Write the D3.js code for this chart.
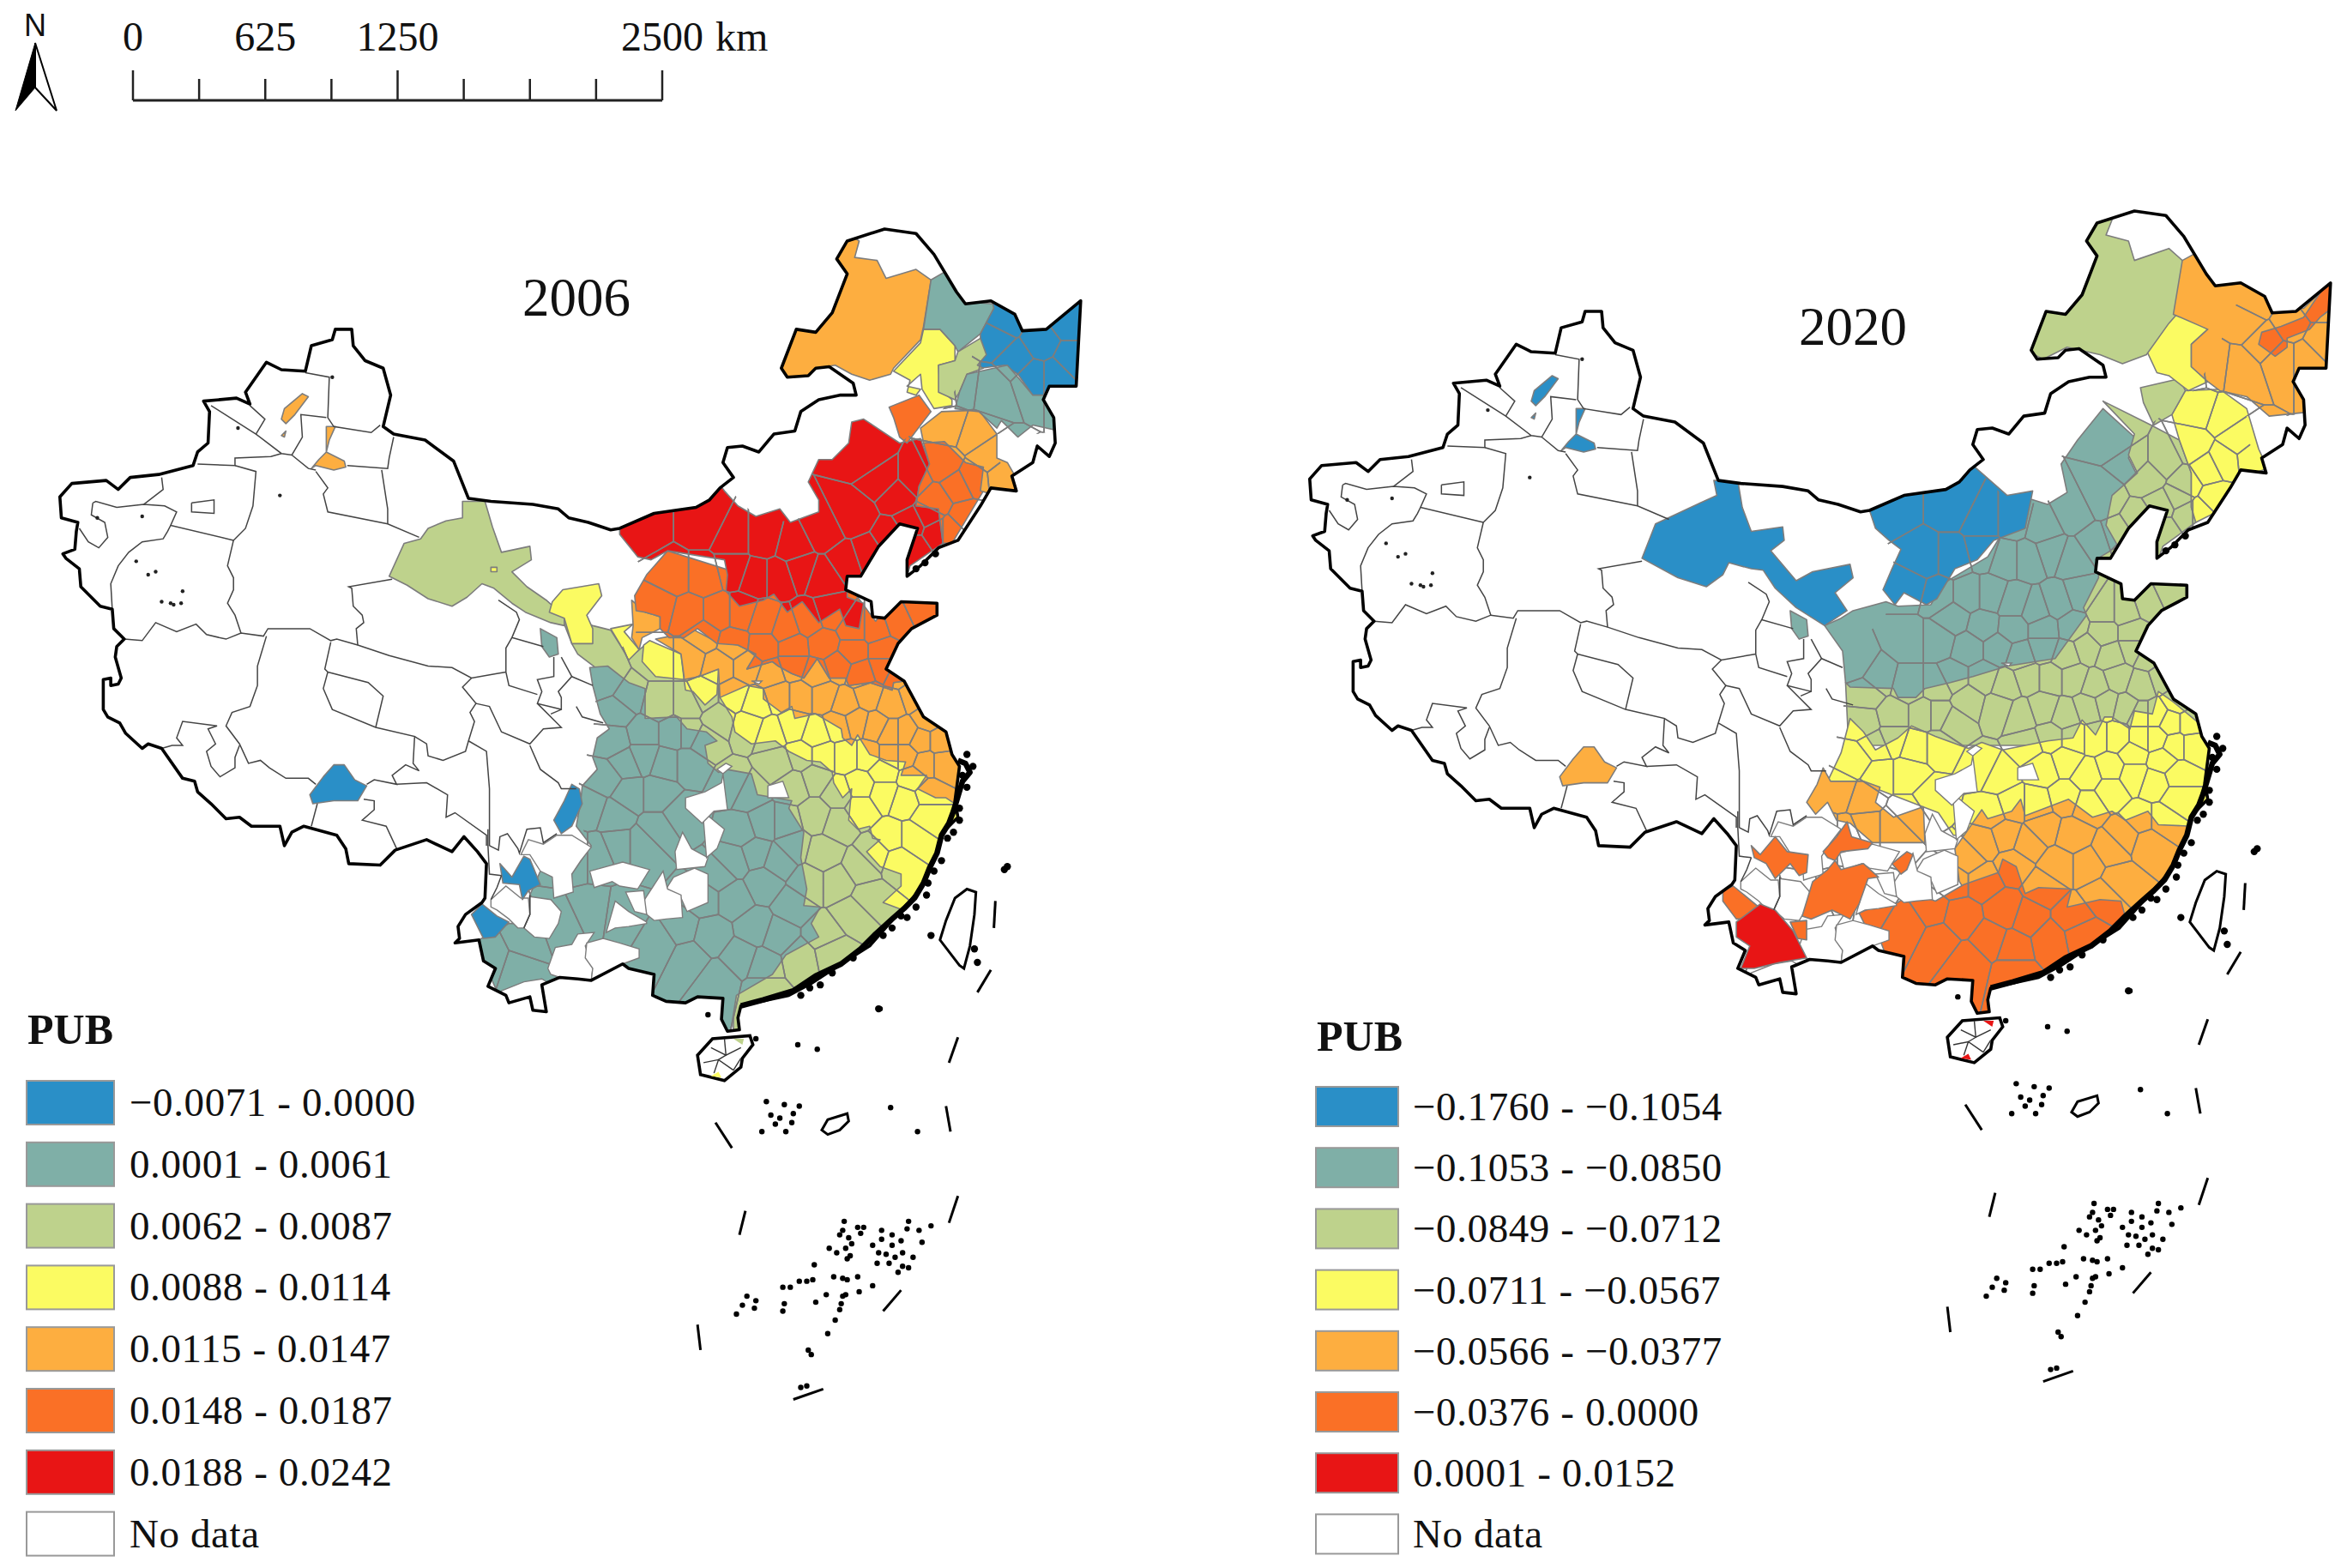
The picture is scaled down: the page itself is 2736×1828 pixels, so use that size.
<!DOCTYPE html>
<html>
<head>
<meta charset="utf-8">
<script src="https://cdn.jsdelivr.net/npm/d3@7"></script>
<style>
  html, body { margin: 0; background: #fff; }
  text { font-family: "Liberation Serif", serif; fill: #111; }
</style>
</head>
<body>
<svg id="chart" width="2736" height="1828"></svg>
<script>
// all map arrays are in "map units", the 2020 panel is the same map shifted
const classColors = ["#2a8fc7", "#7fafa7", "#bed28c", "#fbfb62", "#fdae40", "#fa7026", "#e81515"];
const noDataColor = "#ffffff";

const years = ["2006", "2020"];
const labels2006 = ["\u22120.0071 - 0.0000", "0.0001 - 0.0061", "0.0062 - 0.0087", "0.0088 - 0.0114", "0.0115 - 0.0147", "0.0148 - 0.0187", "0.0188 - 0.0242", "No data"];
const labels2020 = ["\u22120.1760 - \u22120.1054", "\u22120.1053 - \u22120.0850", "\u22120.0849 - \u22120.0712", "\u22120.0711 - \u22120.0567", "\u22120.0566 - \u22120.0377", "\u22120.0376 - 0.0000", "0.0001 - 0.0152", "No data"];
const scaleTicks = [0, 312.5, 625, 937.5, 1250, 1562.5, 1875, 2187.5, 2500];
const scaleLabels = [0, 625, 1250, 2500];

const land = [[40,332],[48,323],[71,321],[79,327],[87,319],[106,317],[129,311],[132,302],[139,296],[140,275],[136,268],[158,266],[167,270],[164,262],[178,242],[188,247],[204,248],[208,231],[222,227],[224,220],[235,220],[236,231],[244,241],[256,246],[261,264],[256,285],[263,290],[284,294],[303,308],[313,333],[328,335],[356,337],[373,340],[380,346],[393,349],[408,354],[414,353],[437,343],[465,339],[474,334],[481,326],[490,319],[483,309],[486,299],[496,298],[507,302],[517,290],[531,288],[535,275],[547,267],[561,264],[572,264],[570,256],[554,245],[545,246],[540,251],[526,252],[522,246],[532,220],[545,222],[556,209],[566,183],[559,173],[566,161],[591,153],[612,156],[624,170],[639,195],[645,203],[662,201],[678,210],[683,221],[699,220],[722,201],[721,220],[719,258],[701,258],[697,267],[704,279],[705,296],[701,305],[693,298],[690,309],[676,318],[679,328],[662,326],[655,338],[640,361],[627,366],[615,378],[606,385],[606,374],[613,353],[601,350],[587,365],[575,385],[566,385],[565,394],[582,402],[583,412],[591,413],[602,402],[626,403],[626,411],[609,420],[600,430],[592,447],[604,455],[617,479],[632,489],[636,504],[641,512],[638,535],[640,546],[630,556],[625,573],[615,594],[607,603],[596,615],[581,632],[562,644],[542,657],[527,665],[495,672],[493,680],[494,688],[486,689],[482,681],[483,667],[466,666],[458,670],[445,669],[436,665],[437,651],[420,647],[416,644],[395,655],[386,654],[374,653],[362,658],[365,676],[356,675],[354,666],[340,670],[338,665],[326,659],[331,647],[323,642],[320,628],[304,630],[307,627],[306,619],[311,611],[322,603],[324,600],[325,577],[319,569],[310,559],[302,569],[285,561],[264,568],[254,578],[233,577],[231,567],[225,558],[203,552],[195,556],[190,565],[187,552],[168,552],[160,546],[151,547],[141,537],[132,529],[130,522],[122,520],[108,500],[99,497],[95,500],[84,490],[80,483],[72,479],[69,474],[69,454],[74,453],[74,458],[79,457],[81,453],[77,439],[78,432],[83,427],[76,420],[75,407],[67,405],[54,392],[53,380],[44,373],[42,370],[50,367],[51,355],[52,349],[41,346]];
const hainan = [[466,705],[476,694],[501,692],[503,698],[496,707],[495,713],[484,722],[468,718]];
const taiwan = [[646,594],[652,596],[651,611],[648,632],[644,647],[641,645],[628,628],[632,615],[638,600]];
const zhongsha = [[549,755],[553,748],[566,744],[567,749],[561,755],[553,758]];

// heavy jagged stretch of the south east coast
const heavyCoast = [[640,508],[645,510],[648,516],[643,522],[640,532],[637,542],[634,550],[629,558],[626,570],[621,580],[617,590],[611,600],[604,607],[596,614],[585,624],[575,634],[562,644],[545,652],[530,662],[510,668],[495,672]];
const coastIslets = [[646,504],[650,512],[643,518],[646,526],[641,540],[633,560],[629,575],[620,590],[612,606],[602,612],[590,625],[548,658],[535,665],[622,625],[587,674],[653,643],[651,634],[673,579],[671,581],[641,548],[637,556],[624,582],[619,598],[606,613],[596,620],[570,640],[556,650],[541,660],[612,380],[618,376],[625,370]];

const dashes = [[[550,928],[530,935]],[[602,862],[590,876]],[[466,885],[468,902]],[[498,809],[494,825]],[[640,799],[634,817]],[[632,739],[635,756]],[[640,693],[634,710]],[[662,648],[653,663]],[[478,750],[489,767]],[[665,602],[664,620]]];
const islets = [[473,678],[588,674],[533,698],[546,701],[505,694],[512,736],[524,738],[515,745],[521,747],[518,751],[530,744],[534,739],[529,750],[509,756],[525,756],[595,740],[613,756],[564,816],[563,822],[561,825],[567,827],[569,831],[565,834],[554,834],[559,837],[568,839],[566,841],[544,845],[573,820],[577,820],[575,824],[589,822],[589,828],[596,825],[602,829],[607,816],[606,821],[614,822],[622,819],[616,830],[583,832],[596,832],[587,837],[592,838],[598,840],[603,837],[610,840],[586,844],[594,844],[603,846],[607,847],[600,850],[557,853],[563,854],[566,855],[573,853],[583,859],[574,863],[552,865],[563,866],[565,865],[545,870],[562,871],[561,875],[558,882],[553,891],[540,902],[542,905],[535,927],[539,926],[523,860],[528,860],[534,856],[539,856],[543,855],[499,866],[505,869],[496,872],[504,874],[492,878],[524,871],[523,876]];

// thin province and prefecture lines in the no data west
const westLines = [
  [[141,271],[171,290],[188,303],[195,304],[202,292],[201,277],[218,279]],
  [[204,249],[220,252],[219,279],[223,285],[248,289],[254,284]],
  [[171,290],[177,280],[167,271]],
  [[132,310],[157,311],[157,306],[181,305],[188,303]],
  [[195,304],[206,313],[211,314]],
  [[232,311],[259,313],[260,306],[263,292]],
  [[211,315],[219,326],[216,330],[219,342],[259,350],[280,359]],
  [[255,314],[259,340],[259,350]],
  [[157,311],[171,315],[169,338],[164,353],[156,361]],
  [[108,319],[109,327],[96,337]],
  [[62,336],[64,335],[78,339],[96,337],[110,338],[118,342],[114,351],[156,361]],
  [[114,351],[112,355],[109,360],[95,362],[86,369],[79,378],[74,390],[75,407]],
  [[62,336],[61,344],[70,349],[72,359],[66,366],[59,362],[53,353]],
  [[156,361],[152,378],[156,386],[156,394],[152,403],[157,411],[161,423]],
  [[128,336],[143,334],[143,343],[128,342],[128,336]],
  [[83,427],[95,428],[104,416],[118,422],[131,417],[138,424],[151,427],[161,423],[176,425],[179,420],[207,420],[221,428],[225,427],[239,431],[260,438],[286,445],[302,446],[315,453],[332,450],[338,449]],
  [[178,425],[172,445],[172,458],[167,472],[155,476],[151,485],[160,497],[166,510],[174,508],[180,513],[191,520],[206,520],[211,524]],
  [[160,498],[157,506],[157,513],[147,519],[141,512],[138,502],[144,497],[139,487],[145,485],[122,482],[118,493],[122,498],[115,498],[108,500]],
  [[221,429],[217,447],[219,449],[216,460],[222,474],[251,486],[277,492],[276,510],[280,515],[271,511],[262,518],[265,524],[250,521],[245,524]],
  [[219,449],[246,456],[256,465],[251,486]],
  [[277,492],[285,497],[286,505],[296,508],[311,502],[313,495],[317,482],[314,476],[318,470],[309,459],[315,453]],
  [[313,495],[325,502],[327,527],[327,565]],
  [[318,470],[327,472],[335,489],[354,497],[363,487],[375,486],[359,470]],
  [[265,524],[285,523],[299,531],[298,546],[304,543],[325,558],[325,565]],
  [[243,534],[250,535],[250,541],[242,548],[258,552],[265,567]],
  [[212,537],[208,552]],
  [[239,431],[238,420],[243,416],[242,411],[236,405],[235,393],[233,392],[262,387]],
  [[354,498],[361,514],[373,523],[375,527],[385,527]],
  [[333,401],[345,409],[347,414],[342,426],[363,432]],
  [[342,426],[338,433],[338,449],[340,458],[359,464]],
  [[370,439],[370,452],[359,454],[362,462],[359,470],[375,474],[375,466],[373,462],[382,452],[396,458]],
  [[375,439],[382,452]],
  [[375,474],[368,477]],
  [[385,472],[389,479],[403,483]],
  [[326,554],[326,565],[327,584],[335,585]],
  [[327,565],[333,568],[334,559],[339,557],[346,567],[347,570],[352,554],[361,553],[363,563],[372,557]],
  [[328,601],[332,593],[335,585]],
  [[354,598],[354,611],[350,620]]
];
const hainanLines = [
  [[475,700],[485,705],[495,700]],
  [[470,710],[480,708],[490,715]],
  [[485,705],[480,708]],
  [[490,715],[495,707]],
  [[484,694],[485,705]],
  [[480,708],[477,717]]
];
const lakeMarks = [[159,286],[222,252],[187,331],[95,345],[65,346],[91,375],[99,384],[104,382],[122,395],[108,402],[114,403],[116,404],[121,403]];

// no data holes inside the coloured area, same in both years
const noDataHoles = [
  [[348,571],[353,561],[363,564],[372,558],[382,558],[395,566],[388,575],[382,584],[383,596],[370,600],[369,586],[361,582],[354,571]],
  [[394,582],[416,576],[434,581],[426,594],[414,592],[409,589],[397,593]],
  [[450,586],[464,580],[473,584],[473,603],[459,609],[455,600],[445,594]],
  [[430,602],[443,582],[446,594],[455,598],[456,613],[445,614],[437,615],[432,611]],
  [[418,596],[430,595],[432,611],[424,609]],
  [[405,623],[411,602],[420,609],[432,616],[432,617],[420,619],[411,620]],
  [[451,569],[456,556],[462,567],[473,573],[471,579],[452,581]],
  [[470,548],[473,545],[484,554],[479,567],[472,573]],
  [[458,533],[471,529],[482,523],[483,517],[486,541],[477,542],[469,550],[458,540]],
  [[479,514],[485,510],[489,512],[483,517]],
  [[513,525],[523,522],[527,533],[513,533]],
  [[502,455],[509,455],[507,457]],
  [[366,647],[371,633],[382,631],[386,624],[397,623],[391,632],[396,647],[395,655],[382,654],[374,653],[368,651]],
  [[392,630],[403,627],[414,630],[427,634],[427,640],[416,644],[395,655],[396,647],[391,640]],
  [[335,662],[350,656],[362,654],[372,660],[372,680],[330,680]],
  [[354,599],[368,601],[375,609],[373,617],[367,627],[357,626],[350,620],[354,611]],
  [[328,601],[338,592],[348,600],[353,600],[354,611],[350,620],[346,620],[340,614],[332,608],[328,606]]
];

// 2006 areas, painted in this order, later ones cover earlier ones
const olive06 = [[365,401],[377,412],[396,418],[408,421],[420,440],[432,430],[470,440],[540,480],[600,520],[640,545],[640,680],[490,695],[490,640],[440,600],[440,500],[403,450],[386,437],[382,430],[377,417],[368,414]];
const oliveGansu06 = [[309,335],[324,335],[329,352],[335,369],[354,365],[355,374],[342,382],[352,392],[365,401],[377,412],[377,418],[368,416],[351,409],[342,403],[330,393],[322,390],[312,399],[302,405],[286,400],[272,391],[260,385],[270,363],[281,360],[286,353],[298,348],[309,346]];
const teal06 = [[394,446],[406,445],[420,456],[431,460],[431,480],[452,479],[459,487],[472,489],[479,495],[471,498],[473,510],[480,516],[485,514],[502,517],[506,531],[529,535],[527,540],[537,556],[535,573],[539,594],[537,605],[548,606],[542,617],[547,626],[525,638],[516,651],[492,665],[488,690],[440,690],[340,680],[322,640],[320,628],[340,617],[352,617],[354,598],[361,582],[373,584],[382,584],[395,565],[385,552],[388,535],[389,525],[399,514],[396,506],[399,493],[407,487],[401,477],[396,458]];
const tealSpot06 = [[361,420],[372,426],[373,437],[367,439],[362,432]];
const yellow06 = [[481,466],[481,440],[560,450],[600,470],[640,500],[650,540],[640,620],[606,620],[606,609],[590,603],[602,592],[602,584],[588,579],[579,569],[588,561],[583,560],[581,552],[573,554],[567,548],[569,527],[563,533],[557,523],[556,516],[548,509],[539,508],[527,502],[518,495],[502,497],[491,489],[489,479]];
const yellowHenan06 = [[430,431],[434,428],[455,437],[457,454],[438,452],[429,442]];
const yellowNingxia06 = [[376,394],[400,390],[402,398],[392,411],[396,420],[396,430],[382,430],[377,413],[367,409],[369,402]];
const yellowShaanxi06 = [[408,420],[423,417],[417,422],[427,434],[420,441],[414,430]];
const yellowHanzhong06 = [[457,454],[467,452],[480,447],[479,464],[471,471],[463,462],[458,461]];
const orange06 = [[438,427],[448,425],[462,420],[479,429],[493,431],[505,437],[499,447],[516,442],[520,445],[529,450],[537,453],[546,440],[554,453],[565,453],[567,458],[581,456],[596,461],[597,456],[604,455],[625,470],[650,500],[650,545],[632,533],[625,533],[613,527],[619,518],[602,518],[605,509],[592,508],[581,504],[573,491],[569,498],[563,493],[562,487],[545,477],[531,480],[529,472],[522,476],[510,467],[510,460],[499,458],[481,466],[480,447],[467,452],[457,454],[457,452],[455,437]];
const orangeStrip06 = [[422,401],[431,409],[441,412],[441,420],[429,426],[427,434],[422,426],[423,418]];
const dark06 = [[432,384],[424,398],[425,408],[431,409],[441,412],[441,420],[447,426],[457,426],[466,420],[479,430],[493,431],[505,437],[499,447],[516,442],[520,445],[529,450],[537,453],[546,440],[554,453],[565,453],[567,458],[581,456],[596,461],[597,456],[604,455],[640,440],[640,395],[600,395],[585,415],[570,395],[500,385],[446,368]];
const red06 = [[414,353],[437,340],[465,336],[474,332],[481,324],[484,328],[493,338],[505,345],[521,340],[528,349],[547,342],[547,334],[540,322],[547,307],[556,307],[567,296],[569,282],[577,280],[601,296],[615,293],[621,310],[614,325],[612,338],[627,340],[630,363],[608,378],[605,388],[566,385],[566,399],[577,403],[575,414],[574,420],[565,418],[561,407],[547,416],[536,402],[526,409],[517,397],[510,401],[494,405],[485,395],[486,384],[484,374],[446,368],[435,374],[426,372],[414,357]];
const darkLiaoning06 = [[617,296],[631,295],[645,309],[657,312],[657,328],[636,363],[630,363],[627,340],[612,338],[614,325],[621,310]];
const orangeJilin06 = [[615,286],[629,275],[654,274],[666,290],[666,306],[673,309],[685,330],[662,330],[655,328],[657,312],[645,309],[631,295],[617,296]];
const darkTongliao06 = [[594,272],[614,264],[622,275],[612,288],[606,296],[601,292],[597,279]];
const yellowNE06 = [[597,248],[615,229],[617,220],[628,220],[638,231],[638,241],[627,244],[628,260],[636,267],[636,271],[624,273],[616,260],[615,250],[606,258],[615,260],[612,264],[606,262],[608,254]];
const orangeHulun06 = [[574,161],[571,172],[586,174],[592,186],[612,180],[622,187],[617,218],[615,227],[597,246],[595,250],[581,254],[569,250],[558,244],[545,246],[540,251],[526,252],[518,246],[528,218],[545,218],[554,207],[562,183],[555,173],[564,155]];
const tealNE06 = [[622,187],[634,180],[648,202],[664,203],[664,206],[655,223],[640,235],[638,231],[628,220],[617,220]];
const blueNE06 = [[662,198],[680,210],[699,215],[728,195],[728,262],[701,262],[697,265],[690,264],[680,250],[671,244],[655,246],[655,223],[664,206]];
const oliveNE06 = [[640,235],[655,226],[659,237],[653,244],[657,246],[646,250],[641,262],[638,267],[627,262],[627,244],[638,241]];
const tealNE2_06 = [[646,250],[673,244],[680,252],[690,264],[697,264],[708,288],[690,284],[680,292],[669,281],[666,286],[654,275],[638,273],[641,262]];
const blueTibet = [[223,511],[230,511],[237,521],[245,525],[239,535],[223,535],[209,537],[207,531],[216,519]];
const blueAba06 = [[382,524],[387,527],[389,537],[382,552],[375,557],[370,548],[377,535]];
const blueLijiang06 = [[350,572],[354,574],[361,591],[353,595],[349,601],[347,591],[336,590],[334,577],[342,586]];
const blueDehong06 = [[315,611],[322,604],[332,612],[340,616],[331,626],[323,627],[318,617]];
const xinjiangA = [[190,273],[202,263],[206,265],[197,277],[191,283],[188,280]];
const xinjiangB = [[188,291],[191,288],[190,292]];
const xinjiangC = [[218,285],[224,285],[220,294],[218,302],[230,308],[231,312],[223,314],[211,311],[208,313],[213,307],[218,302]];
const hainanTipNorth = [[490,694],[497,694],[496,698]];
const hainanTipSouth = [[475,719],[480,716],[482,720]];
const yellowDot06 = [[328,379],[332,379],[332,382],[328,382]];

// 2020 areas
const olive20 = [[398,468],[430,450],[500,420],[557,400],[566,386],[575,385],[600,395],[640,395],[640,510],[400,510]];
const yellow20 = [[401,492],[410,501],[418,513],[433,505],[442,497],[458,504],[480,512],[489,508],[503,513],[533,507],[550,505],[556,493],[565,503],[571,491],[576,491],[588,499],[591,487],[603,489],[607,474],[617,481],[640,500],[650,540],[640,570],[470,570],[460,555],[421,540],[386,534],[395,515]];
const orangeEast20 = [[471,579],[489,553],[493,559],[509,554],[515,546],[518,557],[547,546],[563,558],[576,554],[585,560],[600,554],[607,563],[629,564],[650,560],[640,620],[582,640],[500,640],[474,601]];
const orangeWest20 = [[383,525],[388,534],[410,534],[421,538],[418,548],[430,558],[450,551],[451,575],[416,575],[401,562],[392,560],[386,548],[378,556],[372,548],[379,536]];
const dark20 = [[407,622],[416,618],[433,615],[442,608],[458,614],[477,603],[500,595],[503,586],[512,591],[518,609],[527,605],[549,606],[546,618],[568,613],[582,614],[585,625],[585,632],[610,640],[500,700],[470,690],[440,690],[421,640],[412,632]];
const darkA20 = [[399,561],[402,571],[416,575],[413,579],[395,581],[391,587],[386,585],[383,581],[392,571]];
const darkB20 = [[351,571],[359,581],[373,583],[372,595],[367,597],[361,589],[351,599],[345,589],[337,585],[335,577],[341,583]];
const darkC20 = [[391,587],[395,593],[410,589],[420,598],[413,599],[407,616],[401,626],[389,620],[375,626],[369,624],[376,601],[386,593]];
const darkD20 = [[439,581],[443,583],[439,593],[435,596],[429,589]];
const darkE20 = [[316,607],[323,604],[340,618],[334,626],[325,626],[316,614]];
const darkF20 = [[361,628],[372,627],[372,640],[366,639]];
const red20 = [[325,628],[341,616],[351,620],[363,634],[372,652],[354,655],[337,659],[328,659],[334,644],[325,638]];
const teal20 = [[384,430],[395,425],[403,420],[425,414],[433,417],[455,416],[463,402],[493,384],[501,371],[516,365],[520,345],[533,349],[546,341],[542,322],[553,306],[570,285],[591,304],[587,318],[593,330],[578,343],[576,355],[580,375],[567,388],[567,398],[557,418],[559,423],[538,452],[506,457],[483,464],[468,468],[451,472],[445,478],[433,478],[430,472],[401,471],[398,468],[396,447]];
const tealSpot20 = tealSpot06;
const oliveLiao20 = [[570,280],[602,296],[621,306],[629,328],[629,351],[632,361],[610,377],[606,388],[565,386],[580,377],[572,363],[576,343],[593,328],[587,316],[591,302]];
const yellowLiao20 = [[616,289],[625,273],[648,272],[666,285],[674,312],[680,325],[659,332],[644,355],[632,361],[629,351],[629,328],[621,306]];
const oliveBaicheng20 = [[595,271],[621,265],[625,273],[616,289],[604,296],[597,281]];
const yellowQiqihar20 = [[617,220],[640,232],[629,242],[629,257],[640,267],[627,273],[614,263],[606,261],[599,246],[612,230]];
const orangeNE20 = [[623,186],[634,180],[648,201],[666,198],[685,218],[704,218],[728,195],[728,262],[700,269],[710,287],[681,290],[666,277],[648,273],[640,267],[629,257],[629,242],[640,232],[617,222]];
const darkNE20 = [[721,199],[728,214],[715,224],[708,232],[693,238],[693,244],[685,250],[674,242],[676,234],[689,230],[704,224],[712,212]];
const oliveHulun20 = [[576,159],[572,169],[587,173],[591,186],[614,178],[623,186],[621,220],[614,228],[599,249],[583,255],[568,249],[546,244],[530,252],[518,246],[528,218],[545,218],[554,207],[562,183],[555,173],[562,155]];
const blueHexi20 = [[310,333],[326,333],[329,351],[335,367],[356,364],[357,373],[348,380],[365,400],[376,394],[401,389],[403,398],[391,408],[399,420],[384,430],[365,418],[351,405],[343,393],[335,392],[320,388],[316,396],[305,404],[286,398],[262,385],[271,362],[301,348],[312,343]];
const blueOrdos20 = [[414,353],[440,338],[467,332],[482,322],[506,343],[523,340],[518,365],[497,373],[486,386],[471,392],[459,412],[452,416],[437,408],[431,416],[423,406],[429,392],[435,379],[427,373],[418,365]];

const layers2006 = [
  [2, olive06], [2, oliveGansu06], [1, teal06], [1, tealSpot06], [3, yellow06], [3, yellowHenan06], [3, yellowNingxia06],
  [3, yellowShaanxi06], [3, yellowHanzhong06], [4, orange06], [4, orangeStrip06], [5, dark06], [6, red06],
  [5, darkLiaoning06], [4, orangeJilin06], [5, darkTongliao06], [3, yellowNE06], [4, orangeHulun06], [1, tealNE06],
  [0, blueNE06], [2, oliveNE06], [1, tealNE2_06]
];
const spots2006 = [[0, blueTibet], [0, blueAba06], [0, blueLijiang06], [0, blueDehong06], [4, xinjiangA], [4, xinjiangB], [4, xinjiangC], [3, yellowDot06]];
const hainanSpots2006 = [[2, hainanTipNorth], [3, hainanTipSouth]];
const layers2020 = [
  [2, olive20], [3, yellow20], [4, orangeEast20], [4, orangeWest20], [5, dark20], [1, teal20], [1, tealSpot20], [0, blueOrdos20],
  [2, oliveLiao20], [3, yellowLiao20], [2, oliveBaicheng20], [3, yellowQiqihar20], [2, oliveHulun20], [4, orangeNE20], [5, darkNE20]
];
const spots2020 = [[5, darkA20], [5, darkB20], [5, darkC20], [5, darkD20], [5, darkE20], [5, darkF20], [6, red20], [0, blueHexi20], [4, blueTibet], [0, xinjiangA], [0, xinjiangB], [0, xinjiangC]];
const hainanSpots2020 = [[6, hainanTipNorth], [6, hainanTipSouth]];

// prefecture seats, read roughly, the cells around them draw the grey city borders
const citySeats = [[330,640],[350,630],[345,645],[378,620],[395,612],[415,615],[385,570],[400,570],[412,565],[430,565],[440,555],[455,545],[410,545],[395,540],[420,530],[440,530],[405,520],[418,510],[430,505],[445,510],[460,510],[430,490],[450,490],[470,495],[410,495],[412,475],[440,470],[405,455],[420,465],
[440,630],[460,640],[480,655],[455,620],[475,625],[495,640],[510,645],[470,600],[490,600],[505,620],[520,625],[530,605],[510,590],[490,575],[505,570],[520,575],[530,565],[495,555],[510,550],[525,550],[500,530],[490,525],[480,585],
[550,625],[570,610],[540,590],[560,590],[580,600],[575,580],[550,570],[560,550],[545,545],[530,525],[545,520],[560,530],[575,540],[595,560],[585,570],[600,575],[610,560],[620,545],[605,535],[590,530],[575,525],[590,515],[610,520],[620,530],[535,640],[555,636],[510,662],
[440,440],[460,440],[480,445],[500,445],[515,450],[530,445],[545,450],[560,445],[575,450],[590,445],[600,450],[470,465],[490,465],[505,470],[520,465],[535,465],[550,465],[565,470],[580,465],[595,470],[610,465],[620,480],[500,485],[515,490],[530,485],[545,490],[560,485],[572,482],[585,485],[595,490],[605,490],[615,495],[628,495],[520,510],[535,505],[550,505],[565,505],[580,505],[595,505],[605,505],[618,510],[630,510],[460,470],[480,480],[460,490],
[430,350],[470,350],[490,360],[510,360],[530,365],[550,355],[570,345],[590,320],[580,305],[600,330],[610,320],[450,385],[470,385],[490,380],[505,385],[520,385],[535,380],[550,385],[565,375],[580,370],[595,360],[610,350],[620,345],[625,355],[610,365],[440,405],[460,410],[480,410],[495,410],[510,415],[525,420],[540,415],[555,410],[570,420],[585,420],[600,415],[615,408],[470,425],[490,430],[510,432],[530,432],[550,430],[570,435],[590,435],
[630,310],[640,325],[625,335],[645,345],[635,355],[650,320],[635,285],[650,290],[660,305],[670,318],[670,215],[695,230],[715,215],[680,240],[705,250],[665,225],[690,250],[715,240],[620,245],[630,260],[645,258],[660,260]];
const cityArea = [[322,640],[345,600],[392,565],[385,530],[396,490],[400,445],[425,425],[424,398],[432,384],[414,357],[482,322],[505,345],[528,349],[547,340],[540,322],[547,307],[569,282],[601,296],[612,288],[629,275],[645,250],[655,223],[664,206],[728,198],[728,260],[697,267],[704,288],[680,292],[666,290],[666,306],[682,327],[660,330],[640,365],[650,420],[660,700],[320,700]];

const northArrowLeft = [[41,50],[18,129],[41,102]];
const northArrowRight = [[41,50],[66,129],[41,102]];

const svg = d3.select("#chart");
const lineGen = d3.line();

function drawPanel(year, offsetX, offsetY, layers, spots, hainanSpots) {
  const x = d3.scaleLinear().domain([0, 1568]).range([offsetX, offsetX + 2736]);
  const y = d3.scaleLinear().domain([0, 1047.6]).range([offsetY, offsetY + 1828]);
  const toPath = (pts, closed) => lineGen(pts.map(p => [x(p[0]), y(p[1])])) + (closed ? "Z" : "");

  const g = svg.append("g");
  const defs = g.append("defs");
  defs.append("clipPath").attr("id", "land" + year).append("path").attr("d", toPath(land, true));
  defs.append("clipPath").attr("id", "cities" + year).append("path").attr("d", toPath(cityArea, true));

  const clipped = g.append("g").attr("clip-path", `url(#land${year})`);
  const drawAreas = (parent, rows) => parent.selectAll(null).data(rows).join("path")
    .attr("d", d => toPath(d[1], true))
    .attr("fill", d => classColors[d[0]])
    .attr("stroke", "#7d7d7d")
    .attr("stroke-width", 1.6)
    .attr("stroke-linejoin", "round");

  drawAreas(clipped, layers);

  // city borders
  const voronoi = d3.Delaunay.from(citySeats).voronoi([300, 140, 740, 720]);
  clipped.append("g").attr("clip-path", `url(#cities${year})`)
    .selectAll("path").data(Array.from(voronoi.cellPolygons())).join("path")
    .attr("d", d => toPath(d, true))
    .attr("fill", "none")
    .attr("stroke", "#7d7d7d")
    .attr("stroke-width", 1.6);

  clipped.selectAll(null).data(noDataHoles).join("path")
    .attr("d", d => toPath(d, true))
    .attr("fill", noDataColor)
    .attr("stroke", "#7d7d7d")
    .attr("stroke-width", 1.4);

  drawAreas(clipped, spots);

  g.selectAll(null).data(westLines).join("path")
    .attr("d", d => toPath(d, false))
    .attr("fill", "none")
    .attr("stroke", "#444")
    .attr("stroke-width", 1.5);

  // hainan sits outside the land outline
  g.append("path").attr("d", toPath(hainan, true)).attr("fill", "#fff").attr("stroke", "#000").attr("stroke-width", 3.6);
  hainanSpots.forEach(d => {
    g.append("path").attr("d", toPath(d[1], true)).attr("fill", classColors[d[0]]);
  });
  g.selectAll(null).data(hainanLines).join("path")
    .attr("d", d => toPath(d, false)).attr("fill", "none").attr("stroke", "#333").attr("stroke-width", 1.4);

  g.append("path").attr("d", toPath(land, true))
    .attr("fill", "none").attr("stroke", "#000").attr("stroke-width", 3.6).attr("stroke-linejoin", "round");
  g.append("path").attr("d", toPath(heavyCoast, false))
    .attr("fill", "none").attr("stroke", "#000").attr("stroke-width", 6.5).attr("stroke-linejoin", "round");
  g.append("path").attr("d", toPath(taiwan, true)).attr("fill", "#fff").attr("stroke", "#000").attr("stroke-width", 3);
  g.append("path").attr("d", toPath(zhongsha, true)).attr("fill", "#fff").attr("stroke", "#000").attr("stroke-width", 3);

  g.selectAll(null).data(dashes).join("path")
    .attr("d", d => toPath(d, false)).attr("stroke", "#000").attr("stroke-width", 3).attr("fill", "none");
  g.selectAll(null).data(islets).join("circle")
    .attr("cx", d => x(d[0])).attr("cy", d => y(d[1])).attr("r", 3.2).attr("fill", "#000");
  g.selectAll(null).data(coastIslets).join("circle")
    .attr("cx", d => x(d[0])).attr("cy", d => y(d[1])).attr("r", 4.2).attr("fill", "#000");
  g.selectAll(null).data(lakeMarks).join("circle")
    .attr("cx", d => x(d[0])).attr("cy", d => y(d[1])).attr("r", 2.2).attr("fill", "#222");
}

function drawLegend(labels, swatchX, swatchTop, step, swatchW, swatchH, textX, textDy, titleY) {
  svg.append("text").attr("x", swatchX + 1).attr("y", titleY)
    .attr("font-size", 50).attr("font-weight", "bold").text("PUB");
  const rowY = d3.scalePoint().domain(d3.range(labels.length)).range([swatchTop, swatchTop + 7 * step]);
  const colours = classColors.concat([noDataColor]);
  const rows = svg.append("g").selectAll("g").data(labels).join("g")
    .attr("transform", (d, i) => `translate(0,${rowY(i)})`);
  rows.append("rect").attr("x", swatchX).attr("width", swatchW).attr("height", swatchH)
    .attr("fill", (d, i) => colours[i]).attr("stroke", "#999").attr("stroke-width", 2);
  rows.append("text").attr("x", textX).attr("y", textDy).attr("font-size", 47).attr("letter-spacing", 0.6).text(d => d);
}

drawPanel(years[0], 0, 0, layers2006, spots2006, hainanSpots2006);
drawPanel(years[1], 835 * 2736 / 1568, -12 * 1828 / 1047.6, layers2020, spots2020, hainanSpots2020);

svg.append("text").attr("x", 672).attr("y", 368).attr("text-anchor", "middle").attr("font-size", 63).text(years[0]);
svg.append("text").attr("x", 2160).attr("y", 402).attr("text-anchor", "middle").attr("font-size", 63).text(years[1]);

drawLegend(labels2006, 31, 1260, 71.8, 102, 51, 151, 41, 1217);
drawLegend(labels2020, 1534, 1267, 71.2, 96, 46, 1647, 39, 1225);

// scale bar
const km = d3.scaleLinear().domain([0, 2500]).range([155, 772]);
const bar = svg.append("g");
bar.append("line").attr("x1", km(0)).attr("x2", km(2500)).attr("y1", 117).attr("y2", 117).attr("stroke", "#222").attr("stroke-width", 3);
bar.selectAll("line.tick").data(scaleTicks).join("line").attr("class", "tick")
  .attr("x1", d => km(d)).attr("x2", d => km(d))
  .attr("y1", (d, i) => i % 4 === 0 ? 82 : 92).attr("y2", 117)
  .attr("stroke", "#222").attr("stroke-width", 2.5);
bar.selectAll("text").data(scaleLabels).join("text")
  .attr("x", d => km(d)).attr("y", 59).attr("font-size", 48)
  .attr("text-anchor", "middle").text(d => d);
bar.append("text").attr("x", 834).attr("y", 59).attr("font-size", 48).text("km");

// north arrow
svg.append("text").attr("x", 41).attr("y", 42).attr("text-anchor", "middle").style("font-family", "Liberation Sans").attr("font-size", 36).text("N");
svg.append("path").attr("d", lineGen(northArrowLeft) + "Z").attr("fill", "#000").attr("stroke", "#000");
svg.append("path").attr("d", lineGen(northArrowRight) + "Z").attr("fill", "#fff").attr("stroke", "#000").attr("stroke-width", 2);
</script>
</body>
</html>
